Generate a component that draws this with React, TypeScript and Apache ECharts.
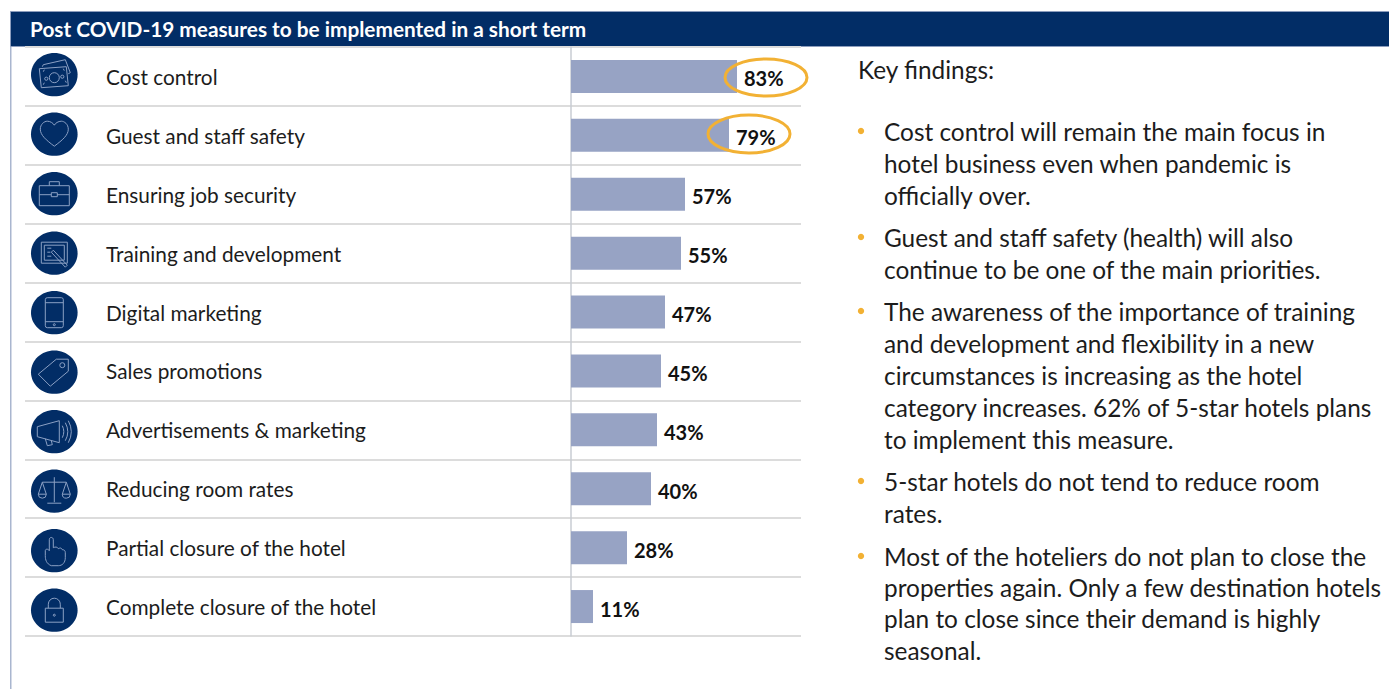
import React, { useEffect, useRef } from "react";
import * as echarts from "echarts";

const FONT = "Lato";
const NAVY = "#022d66";
const AMBER = "#f2b134";

const headerTitle = "Post COVID-19 measures to be implemented in a short term";
const measures = [
  "Cost control",
  "Guest and staff safety",
  "Ensuring job security",
  "Training and development",
  "Digital marketing",
  "Sales promotions",
  "Advertisements & marketing",
  "Reducing room rates",
  "Partial closure of the hotel",
  "Complete closure of the hotel",
];
const shares = [83, 79, 57, 55, 47, 45, 43, 40, 28, 11];

const findingsHeading = "Key findings:";
const findingCost = [
  "Cost control will remain the main focus in",
  "hotel business even when pandemic is",
  "officially over.",
];
const findingSafety = [
  "Guest and staff safety (health) will also",
  "continue to be one of the main priorities.",
];
const findingTraining = [
  "The awareness of the importance of training",
  "and development and flexibility in a new",
  "circumstances is increasing as the hotel",
  "category increases. 62% of 5-star hotels plans",
  "to implement this measure.",
];
const findingRates = ["5-star hotels do not tend to reduce room", "rates."];
const findingClosure = [
  "Most of the hoteliers do not plan to close the",
  "properties again. Only a few destination hotels",
  "plan to close since their demand is highly",
  "seasonal.",
];

const ring = (cx: number, cy: number, r: number) =>
  `M${cx - r} ${cy}a${r} ${r} 0 1 0 ${2 * r} 0a${r} ${r} 0 1 0 ${-2 * r} 0Z`;

// Outline glyphs, one per measure, drawn around the origin of each badge.
const glyphs: Record<string, string> = {
  money:
    "M-15 -6L12 -8L14 11L-13 13Z M-12 -8L-11 -10L11 -15L16 -2L14 -1 " +
    "M-11 -3L-10 -5M9 -6L10 -4M-10 8L-11 10M11 6L12 8 " +
    ring(0, 3, 5) + ring(-8, 4, 1.6) + ring(8, 2, 1.6),
  heart:
    "M0 12C-8 6 -14 1 -14 -5C-14 -10 -10 -13 -7 -13C-4 -13 -1 -11 0 -9C1 -11 4 -13 7 -13C10 -13 14 -10 14 -5C14 1 8 6 0 12Z",
  briefcase:
    "M-15 -8H15V12H-15Z M-5 -8V-12H5V-8 M-15 1H-3 M3 1H15 M-3 -1H3V3H-3Z",
  training:
    "M-13 -11H13V10H-13Z M-10 -8H10V7H-10Z M-7 -5H-3 M-7 -1H-4 M-7 3H-3 " +
    "M-1 -3L13 12L11 14L-3 -1Z",
  phone:
    "M-7 -15H7Q9 -15 9 -13V13Q9 15 7 15H-7Q-9 15 -9 13V-13Q-9 -15 -7 -15Z M-9 -10H9 M-9 9H9 " +
    ring(0, 12, 1),
  tag: "M2 -13L14 -13L14 -1L-4 14L-16 2Z " + ring(8, -7, 2.5),
  megaphone:
    "M-17 -5L5 -11V11L-17 5Z M-9 7L-7 14L-2 13L-3 9 M8 -6Q11 0 8 6 M11 -9Q16 0 11 9 M14 -11Q20 0 14 11",
  scales:
    "M0 -14V11 M-7 12H7 M-12 -9H12 M-12 -9L-16 3 M-12 -9L-8 3 M-16 3A4 4 0 0 0 -8 3Z " +
    "M12 -9L8 3 M12 -9L16 3 M8 3A4 4 0 0 0 16 3Z",
  hand:
    "M-3 15C-8 13 -9 9 -9 5L-9 0C-9 -2 -6 -2 -5 0L-5 -11C-5 -14 -1 -14 -1 -11L-1 -3C1 -4 3 -4 4 -2C6 -3 7 -3 8 -1C10 -1 11 0 11 2L11 7C11 12 8 15 4 15Z",
  lock:
    "M-9 -2H9V12H-9Z M-6 -2V-6A6 6 0 0 1 6 -6V-2 " + ring(0, 5, 1),
};
const glyphOrder = [
  "money", "heart", "briefcase", "training", "phone",
  "tag", "megaphone", "scales", "hand", "lock",
];
Object.keys(glyphs).forEach((name) => {
  echarts.graphic.registerShape(
    "glyph-" + name,
    echarts.graphic.extendPath(glyphs[name], {}) as any
  );
});

const LINE_STEP = 32;
const BODY_FONT = `24.4px ${FONT}`;

const findingBlock = (lines: string[], firstY: number, step = LINE_STEP) => [
  {
    type: "circle",
    shape: { cx: 861, cy: firstY, r: 3.2 },
    style: { fill: AMBER },
  },
  ...lines.map((line, i) => ({
    type: "text",
    x: 884,
    y: firstY + i * step,
    style: {
      text: line,
      font: BODY_FONT,
      fill: "#1c1c1c",
      textVerticalAlign: "middle",
    },
  })),
];

export default function App() {
  const ref = useRef<HTMLDivElement>(null);

  useEffect(() => {
    const chart = echarts.init(ref.current!, null, { renderer: "svg" });

    const badges = glyphOrder.map((name, i) => ({
      type: "group",
      x: 54.3,
      y: 74.7 + i * 59.5,
      children: [
        {
          type: "ellipse",
          shape: { cx: 0, cy: 0, rx: 23.3, ry: 21.6 },
          style: { fill: NAVY },
        },
        {
          type: "glyph-" + name,
          style: { fill: "none", stroke: "#8ba0c4", lineWidth: 1 },
        },
      ],
    }));

    chart.setOption({
      animation: false,
      backgroundColor: "#ffffff",
      title: {
        text: headerTitle,
        left: 30,
        top: 17,
        padding: 0,
        textStyle: {
          color: "#ffffff",
          fontFamily: FONT,
          fontWeight: "bold",
          fontSize: 20.8,
          lineHeight: 22,
        },
      },
      grid: { left: 25, top: 47, width: 776, height: 589, outerBoundsMode: "none" },
      xAxis: {
        type: "value",
        min: -273,
        max: 115,
        show: false,
      },
      yAxis: {
        type: "category",
        data: measures,
        inverse: true,
        axisTick: { show: false },
        axisLine: {
          show: true,
          onZero: true,
          lineStyle: { color: "#c9cdd3", width: 1.5 },
        },
        axisLabel: {
          interval: 0,
          align: "left",
          // Labels hang off the grid's left edge, not the zero line.
          margin: -81,
          color: "#1c1c1c",
          fontFamily: FONT,
          fontSize: 20.8,
        },
        splitLine: {
          show: true,
          interval: 0,
          lineStyle: { color: "#dcdcdc", width: 2 },
        },
      },
      series: [
        {
          type: "bar",
          data: shares,
          barWidth: 33,
          itemStyle: { color: "#97a3c4" },
          label: {
            show: true,
            position: "right",
            distance: 7,
            offset: [0, 2],
            formatter: "{c}%",
            color: "#111111",
            fontFamily: FONT,
            fontWeight: "bold",
            fontSize: 20,
          },
        },
      ],
      graphic: [
        {
          type: "rect",
          z: 0,
          shape: { x: 10.5, y: 11.5, width: 1390, height: 35 },
          style: { fill: NAVY, stroke: "#8c9dbd", lineWidth: 1 },
        },
        {
          type: "rect",
          z: 0,
          shape: { x: 10, y: 47, width: 1.5, height: 642 },
          style: { fill: "#a9b6cf" },
        },
        ...badges,
        {
          type: "ellipse",
          z: 10,
          shape: { cx: 766, cy: 77.5, rx: 41, ry: 18.5 },
          style: { fill: "none", stroke: AMBER, lineWidth: 3 },
        },
        {
          type: "ellipse",
          z: 10,
          shape: { cx: 749, cy: 134, rx: 41, ry: 19 },
          style: { fill: "none", stroke: AMBER, lineWidth: 3 },
        },
        {
          type: "text",
          x: 858,
          y: 69,
          style: {
            text: findingsHeading,
            font: BODY_FONT,
            fill: "#1c1c1c",
            textVerticalAlign: "middle",
          },
        },
        ...findingBlock(findingCost, 131),
        ...findingBlock(findingSafety, 237),
        ...findingBlock(findingTraining, 311),
        ...findingBlock(findingRates, 481),
        ...findingBlock(findingClosure, 556, 31.4),
      ],
    } as any);

    return () => chart.dispose();
  }, []);

  return (
    <div
      ref={ref}
      style={{ position: "absolute", left: 0, top: 0, width: 1389, height: 689 }}
    />
  );
}
